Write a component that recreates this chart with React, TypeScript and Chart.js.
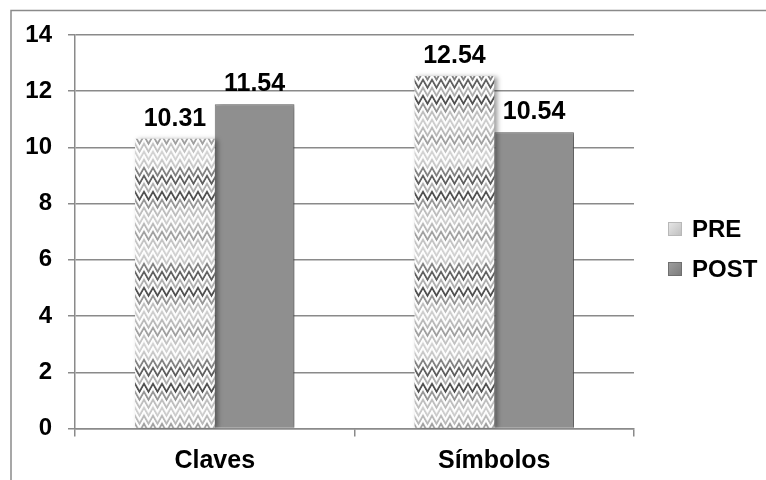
import React, { useEffect, useRef } from "react";
import { Chart, registerables } from "chart.js";

Chart.register(...registerables);

const categories = ["Claves", "Símbolos"];
const preValues = [10.31, 12.54];
const postValues = [11.54, 10.54];
const seriesNames = ["PRE", "POST"];
const yTicks = [0, 2, 4, 6, 8, 10, 12, 14];

const FONT = "'Liberation Sans', Arial, sans-serif";

function makeZigzag(): CanvasPattern | string {
  const w = 9;
  const rowH = 8;
  const levels = [80, 150, 190, 205, 185, 160, 195, 210, 200, 130, 95, 175];
  const h = rowH * levels.length;
  const c = document.createElement("canvas");
  c.width = w;
  c.height = h;
  const g = c.getContext("2d");
  if (!g) return "#cccccc";
  g.fillStyle = "#f6f6f6";
  g.fillRect(0, 0, w, h);
  for (let i = -1; i <= levels.length; i++) {
    const lv = levels[(i + levels.length) % levels.length];
    const y = i * rowH;
    g.strokeStyle = `rgb(${lv},${lv},${lv})`;
    g.lineWidth = 2;
    g.beginPath();
    g.moveTo(-4.5, y + 8);
    g.lineTo(0, y);
    g.lineTo(4.5, y + 8);
    g.lineTo(9, y);
    g.lineTo(13.5, y + 8);
    g.stroke();
    g.strokeStyle = "rgba(255,255,255,0.95)";
    g.lineWidth = 1.2;
    g.beginPath();
    g.moveTo(-4.5, y + 11);
    g.lineTo(0, y + 3);
    g.lineTo(4.5, y + 11);
    g.lineTo(9, y + 3);
    g.lineTo(13.5, y + 11);
    g.stroke();
  }
  const p = g.createPattern(c, "repeat");
  return p || "#cccccc";
}

const framePlugin = {
  id: "frame",
  beforeDraw(chart: any) {
    const ctx = chart.ctx;
    ctx.save();
    ctx.fillStyle = "#ffffff";
    ctx.fillRect(0, 0, chart.width, chart.height);
    ctx.strokeStyle = "#8a8a8a";
    ctx.lineWidth = 1.5;
    ctx.strokeRect(11, 10.5, 900, 900);
    ctx.restore();
  },
};

const shadowPlugin = {
  id: "barShadow",
  beforeDatasetDraw(chart: any) {
    const ctx = chart.ctx;
    ctx.save();
    ctx.shadowColor = "rgba(0,0,0,0.4)";
    ctx.shadowBlur = 5;
    ctx.shadowOffsetX = 3;
    ctx.shadowOffsetY = 1;
  },
  afterDatasetDraw(chart: any) {
    chart.ctx.restore();
  },
};

const labelPlugin = {
  id: "valueLabels",
  afterDatasetsDraw(chart: any) {
    const ctx = chart.ctx;
    ctx.save();
    ctx.fillStyle = "#000000";
    ctx.font = `bold 25px ${FONT}`;
    ctx.textAlign = "center";
    ctx.textBaseline = "alphabetic";
    chart.data.datasets.forEach((ds: any, di: number) => {
      const meta = chart.getDatasetMeta(di);
      meta.data.forEach((el: any, i: number) => {
        const v = ds.data[i] as number;
        ctx.fillText(v.toFixed(2), el.x, el.y - 13);
      });
    });
    ctx.restore();
  },
};

const legendPlugin = {
  id: "customLegend",
  afterDraw(chart: any) {
    const ctx = chart.ctx;
    ctx.save();
    ctx.font = `bold 24px ${FONT}`;
    ctx.textBaseline = "middle";
    ctx.textAlign = "left";
    const x0 = 668;
    const ys = [229, 269];
    chart.data.datasets.forEach((ds: any, i: number) => {
      const y = ys[i];
      const grad = ctx.createLinearGradient(x0, y - 7, x0 + 14, y + 7);
      if (i === 0) {
        grad.addColorStop(0, "#e8e8e8");
        grad.addColorStop(1, "#bdbdbd");
      } else {
        grad.addColorStop(0, "#a0a0a0");
        grad.addColorStop(1, "#7a7a7a");
      }
      ctx.fillStyle = grad;
      ctx.fillRect(x0, y - 7, 14, 14);
      ctx.strokeStyle = i === 0 ? "#b8b8b8" : "#6f6f6f";
      ctx.lineWidth = 1;
      ctx.strokeRect(x0 + 0.5, y - 6.5, 13, 13);
      ctx.fillStyle = "#000000";
      ctx.fillText(ds.label, 692, y + 1);
    });
    ctx.restore();
  },
};

export default function App() {
  const ref = useRef<HTMLCanvasElement | null>(null);
  useEffect(() => {
    if (!ref.current) return;
    const zig = makeZigzag();
    const chart = new Chart(ref.current, {
      type: "bar",
      data: {
        labels: categories,
        datasets: [
          {
            label: seriesNames[0],
            data: preValues,
            backgroundColor: zig as any,
            borderWidth: 0,
          },
          {
            label: seriesNames[1],
            data: postValues,
            backgroundColor: "#8f8f8f",
            borderColor: "#747474",
            borderWidth: 1,
          },
        ],
      },
      options: {
        responsive: false,
        animation: false,
        devicePixelRatio: 1,
        layout: { padding: { left: 11, top: 35, right: 132, bottom: 0 } },
        datasets: {
          bar: { categoryPercentage: 0.57, barPercentage: 1 },
        },
        plugins: {
          legend: { display: false },
          tooltip: { enabled: false },
        },
        scales: {
          x: {
            grid: {
              display: true,
              drawOnChartArea: false,
              drawTicks: true,
              tickLength: 8,
              color: "#8a8a8a",
              lineWidth: 1.5,
            },
            border: { display: true, color: "#8a8a8a", width: 1.5 },
            ticks: {
              color: "#000000",
              font: { family: FONT, size: 25, weight: "bold" },
              padding: 10,
            },
            afterFit(scale: any) {
              scale.height = 51.5;
            },
          },
          y: {
            min: 0,
            max: 14,
            afterBuildTicks(scale: any) {
              scale.ticks = yTicks.map((v) => ({ value: v }));
            },
            grid: {
              color: "#8a8a8a",
              lineWidth: 1.5,
              drawTicks: true,
              tickLength: 7,
            },
            border: { display: true, color: "#8a8a8a", width: 1.5 },
            ticks: {
              color: "#000000",
              font: { family: FONT, size: 24, weight: "bold" },
              padding: 16,
            },
            afterFit(scale: any) {
              scale.width = 64;
            },
          },
        },
      },
      plugins: [framePlugin, shadowPlugin, labelPlugin, legendPlugin],
    });
    return () => chart.destroy();
  }, []);
  return (
    <div style={{ position: "absolute", left: 0, top: 0, width: 766, height: 480 }}>
      <canvas ref={ref} width={766} height={480} style={{ width: 766, height: 480 }} />
    </div>
  );
}
